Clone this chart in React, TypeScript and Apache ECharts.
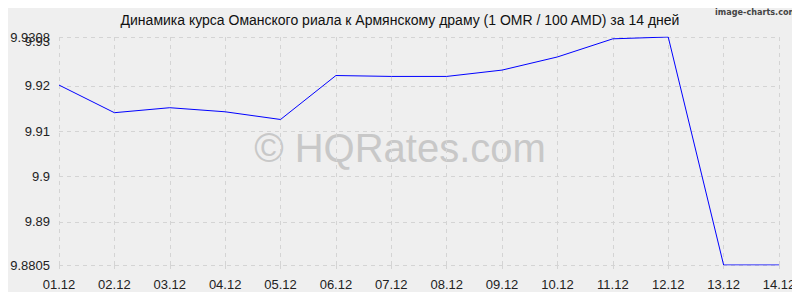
import React, { useEffect, useRef } from "react";
import * as echarts from "echarts";

const categories = ["01.12","02.12","03.12","04.12","05.12","06.12","07.12","08.12","09.12","10.12","11.12","12.12","13.12","14.12"];
const rates = [9.9202, 9.9141, 9.9152, 9.9143, 9.9126, 9.9223, 9.9221, 9.9221, 9.9235, 9.9264, 9.9304, 9.9308, 9.8805, 9.8805];
const yMin = 9.8805;
const yMax = 9.9308;
const yLabelValues = [9.8805, 9.89, 9.9, 9.91, 9.92, 9.9308];
const yExtraLabelValues = [9.93];
const yGridValues = [9.8805, 9.89, 9.9, 9.91, 9.92, 9.9308];
const titleText = "Динамика курса Оманского риала к Армянскому драму (1 OMR / 100 AMD) за 14 дней";
const watermarkText = "© HQRates.com";
const creditText = "image-charts.com";

export default function App() {
  const ref = useRef<HTMLDivElement>(null);
  useEffect(() => {
    if (!ref.current) return;
    const chart = echarts.init(ref.current, null, { renderer: "svg" });
    const gridColor = "#d4d4d4";
    const labelBase = {
      color: "#222",
      fontSize: 13,
      margin: 9,
      showMaxLabel: true,
      showMinLabel: true,
      hideOverlap: false,
      formatter: (v: number) => String(v),
    };
    chart.setOption({
      animation: false,
      backgroundColor: "#efefef",
      textStyle: { fontFamily: "Liberation Sans, Arial, sans-serif" },
      title: {
        text: titleText,
        left: "center",
        top: 8,
        textStyle: { fontSize: 14, fontWeight: "normal", color: "#111", fontFamily: "Liberation Sans, Arial, sans-serif" },
      },
      graphic: [
        {
          type: "text",
          x: 797,
          y: 12,
          z: 10,
          style: { text: creditText, fontSize: 9, fontWeight: "bold", fill: "#444", align: "right", verticalAlign: "middle", fontFamily: "DejaVu Sans Condensed, DejaVu Sans, sans-serif" },
        },
        {
          type: "text",
          x: 400,
          y: 148,
          z: 0,
          style: { text: watermarkText, fontSize: 40, fill: "#c8c8c8", align: "center", verticalAlign: "middle", fontFamily: "Liberation Sans, Arial, sans-serif" },
        },
      ],
      grid: { left: 59, right: 21, top: 37, bottom: 35, containLabel: false },
      xAxis: {
        type: "category",
        data: categories,
        boundaryGap: false,
        axisLine: { show: false },
        axisTick: { show: true, length: 8, lineStyle: { color: gridColor, type: [4, 4] } },
        axisLabel: { color: "#222", fontSize: 13, margin: 13 },
        splitLine: { show: true, lineStyle: { color: gridColor, type: [4, 4], width: 1 } },
      },
      yAxis: [
        {
          type: "value",
          min: yMin,
          max: yMax,
          position: "left",
          axisLine: { show: false },
          axisTick: { show: false, customValues: yGridValues },
          axisLabel: { ...labelBase, customValues: yLabelValues },
          splitLine: { show: true, lineStyle: { color: gridColor, type: [4, 4], width: 1 } },
        },
        {
          type: "value",
          min: yMin,
          max: yMax,
          position: "left",
          offset: 0,
          axisLine: { show: false },
          axisTick: { show: false, customValues: yExtraLabelValues },
          axisLabel: { ...labelBase, customValues: yExtraLabelValues, verticalAlign: "top", padding: [-6, 0, 0, 0] },
          splitLine: { show: false },
        },
      ],
      series: [
        {
          type: "line",
          data: rates,
          yAxisIndex: 0,
          symbol: "none",
          lineStyle: { color: "#0000ff", width: 1 },
          z: 5,
        },
      ],
    });
    return () => chart.dispose();
  }, []);
  return <div ref={ref} style={{ width: 800, height: 300, margin: -8 }} />;
}
